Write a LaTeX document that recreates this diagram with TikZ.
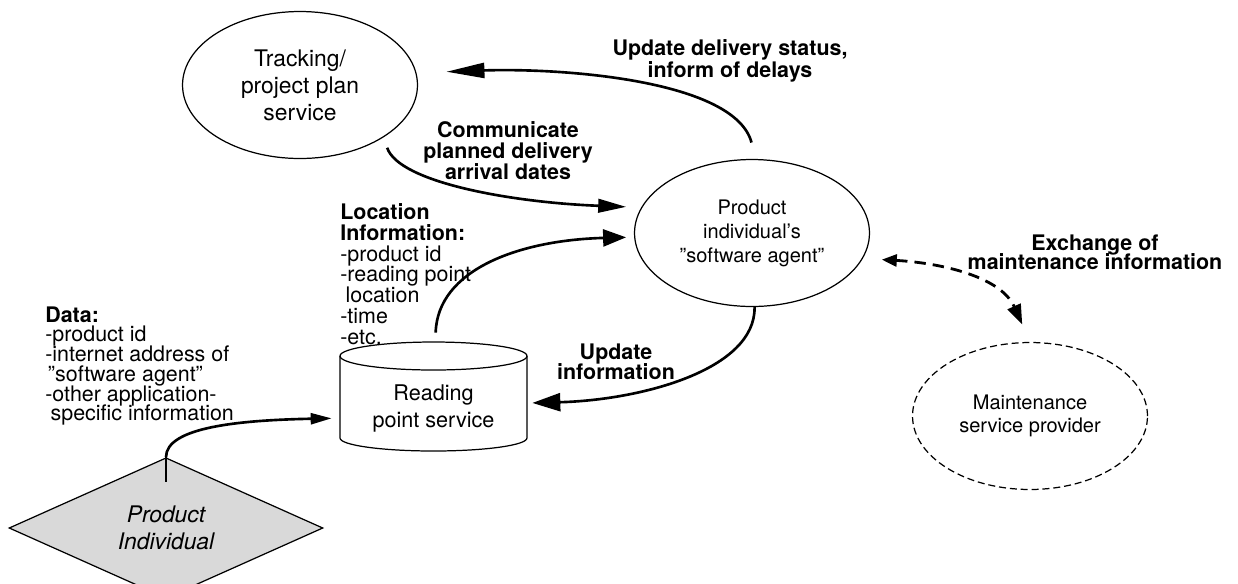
\documentclass[tikz,border=0pt]{standalone}
\usepackage{fontspec}
\setmainfont{TeX Gyre Heros}
\usetikzlibrary{arrows.meta,shapes.geometric}
\setlength{\lineskiplimit}{-20pt}

\begin{document}
\begin{tikzpicture}
[x=0.02cm, y=0.02cm,%
  arrowDecorate/.style={-{Triangle[length=0.52cm,width=0.3cm]},line width=1.5pt},%
  dashDecorate/.style={{Triangle[length=0.3cm,width=0.24cm]}-{Triangle[length=0.4cm,width=0.28cm]},line width=1.6pt,dash pattern=on 6.5pt off 4pt},%
  ellipseDecorate/.style={shape=ellipse,draw,line width=0.7pt,minimum width=4.7cm,minimum height=2.94cm,align=center,inner sep=0pt},%
  labelDecorate/.style={align=center,inner sep=0pt,font=\fontsize{12.2}{12}\selectfont\bfseries},%
  listDecorate/.style={align=left,inner sep=0pt,anchor=west}]
\useasboundingbox (0,0) rectangle (1238,-583);
%% nodes or vertices
\node (track) at (300,-85) [ellipseDecorate,font=\fontsize{13}{15.4}\selectfont] {Tracking/\\project plan\\service};
\node (agent) at (752,-233) [ellipseDecorate,font=\fontsize{11.4}{13.7}\selectfont] {Product\\individual’s\\”software agent”};
\node (maint) at (1030,-416) [ellipseDecorate,dash pattern=on 4pt off 2.2pt,font=\fontsize{11.4}{13}\selectfont] {Maintenance\\service provider};
\node (read) at (433.5,-396.5) [minimum width=3.74cm,minimum height=2.18cm,
  label={[align=center,font=\fontsize{12.3}{15.4}\selectfont,yshift=-0.24cm]center:Reading\\point service}] {};
\node (prod) at (166,-528) [shape=diamond,draw,line width=0.7pt,fill=gray!30,minimum width=6.28cm,minimum height=2.24cm,
  inner sep=0pt,align=center,font=\fontsize{13}{15.4}\selectfont\itshape] {Product\\Individual};
%% cylinder of the reading point service
\draw[line width=0.7pt] (340,-356) -- (340,-438) arc[start angle=180,end angle=360,x radius=1.87cm,y radius=0.26cm] -- (527,-356);
\draw[line width=0.7pt] (433.5,-356) ellipse [x radius=1.87cm,y radius=0.28cm];
%% texts
\node (lblStatus) at (730,-61) [labelDecorate,font=\fontsize{12.2}{12.5}\selectfont\bfseries] {Update delivery status,\\inform of delays};
\node (lblPlan) at (508,-151) [labelDecorate] {Communicate\\planned delivery\\arrival dates};
\node (lblLoc) at (340,-274) [listDecorate,font=\fontsize{12.2}{11.8}\selectfont] {\textbf{Location}\\\textbf{Information:}\\-product id\\-reading point\\\hspace*{3pt}location\\-time\\-etc.};
\node (lblData) at (45,-366) [listDecorate,font=\fontsize{12.2}{11.2}\selectfont] {\textbf{Data:}\\-product id\\-internet address of\\\hspace*{1.5pt}”software agent”\\-other application-\\\hspace*{3pt}specific information};
\node (lblUpd) at (616,-362) [labelDecorate,font=\fontsize{12.2}{11.4}\selectfont\bfseries] {Update\\information};
\node (lblExch) at (1095,-252) [labelDecorate,font=\fontsize{12.2}{11}\selectfont\bfseries] {Exchange of\\maintenance information};
%% edges or lines
\draw[line width=0.9pt] (prod.north) -- ++(0,-25);
\draw[line width=0.9pt] (prod.south) -- ++(0,12);
\draw[arrowDecorate,-{Triangle[length=0.42cm,width=0.22cm]},shorten >=0.16cm] (prod.north) .. controls +(0,30) and +(-100,-2) .. (read.193);
\draw[arrowDecorate,-{Triangle[length=0.46cm,width=0.34cm]},shorten <=0.18cm,shorten >=0.16cm] (read.88) .. controls +(2,72) and +(-115,-3) .. (agent.182);
\draw[arrowDecorate,-{Triangle[length=0.56cm,width=0.27cm]},shorten <=0.22cm,shorten >=0.3cm] (track.-32) .. controls +(15,-45) and +(-130,5) .. (agent.167);
\draw[arrowDecorate,-{Triangle[length=0.76cm,width=0.3cm]},shorten <=0.34cm,shorten >=0.6cm] (agent.87) .. controls +(-21,79) and +(145,5) .. (track.6);
\draw[arrowDecorate,-{Triangle[length=0.56cm,width=0.36cm]},shorten >=0.1cm] (agent.272) .. controls +(1,-63) and +(113,3) .. (read.356);
\draw[dashDecorate,shorten <=0.38cm,shorten >=0.38cm] (agent.-13) .. controls +(73,-4) and +(-30,67) .. (maint.north);
\end{tikzpicture}
\end{document}
